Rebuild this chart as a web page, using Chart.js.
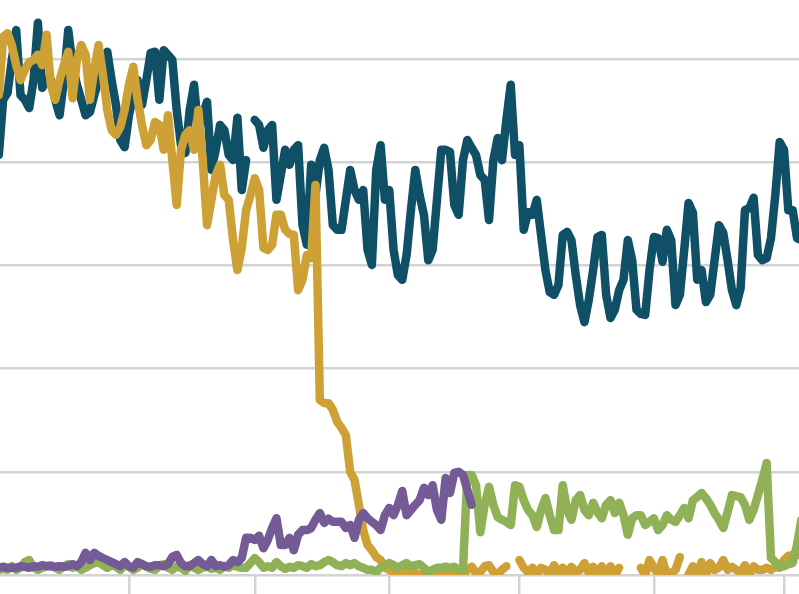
<!DOCTYPE html>
<html><head><meta charset="utf-8">
<script src="https://cdn.jsdelivr.net/npm/chart.js@4.4.1/dist/chart.umd.min.js"></script>
<style>html,body{margin:0;padding:0;background:#fff;overflow:hidden}#wrap{position:relative;width:799px;height:594px}</style>
</head><body><div id="wrap"><canvas id="c"></canvas></div>
<script>
// Daily series, day 0 = 2020-01-01
const monthTickDays = [31, 60, 91, 121, 152, 182];
const monthTickLabels = ['Feb', 'Mar', 'Apr', 'May', 'Jun', 'Jul'];
const yGridValues = [0, 20, 40, 60, 80, 100];

const blueSeries = [
78.5,81.4,92.1,93.4,99.8,105.6,93.0,92.1,90.5,95.9,
107.0,94.4,95.9,95.9,92.1,89.1,95.9,105.6,98.8,95.0,
92.1,89.1,89.7,93.0,95.9,98.8,101.4,95.9,91.1,84.3,
82.9,89.1,93.0,95.9,91.1,95.9,101.2,101.4,92.1,101.7,
100.8,99.8,90.1,83.3,81.8,90.1,95.0,86.2,89.1,91.7,
78.5,82.4,87.2,86.2,81.4,80.4,88.6,74.6,80.4,null,
88.2,87.2,82.8,86.2,87.2,72.7,77.5,82.4,79.5,82.4,
83.3,67.8,64.0,79.5,73.6,80.4,82.8,78.5,67.8,66.9,
66.9,72.7,78.5,74.6,72.7,74.6,63.0,60.1,78.5,83.3,
72.7,74.6,63.0,58.1,57.2,62.0,70.7,78.5,73.6,69.8,
61.0,63.0,72.7,82.4,82.4,82.0,71.7,69.8,80.4,84.3,
82.8,81.4,77.5,76.6,68.8,80.4,84.7,80.4,88.2,95.0,
81.4,83.3,66.9,70.3,69.8,72.7,65.9,59.1,54.8,54.3,
56.2,65.9,66.5,64.9,58.1,52.3,49.0,53.3,59.1,65.5,
65.9,54.3,49.8,51.4,55.2,57.2,64.9,61.0,51.4,50.6,
50.4,59.1,65.5,65.3,60.7,66.9,64.9,52.3,54.3,63.0,
72.1,70.2,57.2,59.1,52.9,54.3,61.0,67.8,66.3,61.0,
55.2,52.3,55.6,70.7,71.1,73.1,62.0,61.0,61.4,65.3,
73.6,83.9,82.4,70.7,70.7,65.3,64.9
];

const yellowSeries = [
90.1,93.0,104.3,105.0,102.7,98.8,95.9,97.9,99.4,99.8,
100.8,98.8,104.7,95.0,92.1,95.9,98.8,101.4,92.4,99.8,
102.7,100.8,92.1,97.9,102.7,96.9,90.1,86.2,85.3,86.8,
90.1,95.0,98.5,92.1,87.2,83.3,84.3,87.8,87.2,82.4,
89.1,80.4,71.7,82.4,85.3,86.2,82.4,90.1,80.4,67.8,
72.7,77.5,79.5,73.6,72.7,64.9,59.1,63.4,70.7,73.6,
76.9,74.6,63.4,63.0,64.0,69.8,69.8,66.9,66.1,65.9,
55.2,57.2,62.0,61.4,75.6,33.9,33.3,33.3,32.0,29.7,
28.5,27.1,20.0,18.4,13.6,8.7,5.8,4.8,3.5,2.9,
1.4,1.0,0.6,0.4,0.4,0.6,0.2,0.4,0.0,0.2,
0.0,0.2,0.0,0.2,0.0,0.4,0.2,0.4,0.2,1.0,
1.6,0.4,0.6,1.7,1.9,0.6,0.2,1.0,1.7,null,
null,2.9,1.4,0.6,1.4,0.0,1.4,1.0,0.2,1.9,
0.6,1.4,0.0,1.6,0.6,1.0,2.3,0.4,1.6,0.0,
1.7,0.2,1.7,0.0,1.4,null,null,null,null,1.4,
0.0,2.9,1.4,0.2,2.9,0.0,0.4,1.0,3.5,null,
0.0,1.7,0.0,2.5,0.0,2.3,1.0,1.4,2.9,1.0,
1.6,1.0,0.4,1.9,0.0,1.7,1.0,1.0,1.4,1.0,
1.6,1.4,2.9,3.7,3.9,3.9,3.9
];

const greenSeries = [
1.4,1.0,1.2,1.0,1.7,1.0,1.4,2.5,2.9,1.4,
1.0,1.4,1.7,1.9,1.4,1.0,1.7,2.1,1.4,1.7,
1.0,1.4,1.9,2.3,2.5,1.9,1.4,1.9,1.6,1.0,
1.9,1.6,1.0,1.4,2.1,1.6,1.2,1.0,1.7,2.1,
1.4,1.0,1.7,1.4,0.8,1.9,1.4,1.0,1.4,1.7,
1.2,1.4,1.0,1.7,1.4,1.9,1.6,1.4,1.4,2.3,
3.3,2.5,1.4,1.7,1.4,2.5,1.7,1.2,1.6,1.4,
1.9,1.7,1.4,2.1,1.7,1.9,2.5,2.9,2.5,1.9,
1.7,2.3,1.9,2.3,1.7,1.4,1.0,1.0,0.6,1.4,
1.9,2.3,1.9,1.4,1.9,2.3,1.7,1.9,2.1,1.4,
0.6,1.0,1.4,1.4,1.6,1.4,1.6,1.0,1.0,19.4,
19.4,17.4,8.3,13.6,17.1,13.6,11.2,10.7,10.3,9.7,
17.4,17.1,14.5,12.6,11.6,9.3,12.6,14.9,11.6,8.7,
8.7,17.4,12.6,10.7,14.5,15.5,12.6,11.6,14.0,12.2,
11.0,13.6,14.5,12.0,14.0,11.6,7.8,11.0,11.6,11.6,
9.7,10.3,11.0,8.7,9.7,11.6,10.7,10.3,11.6,13.0,
11.0,14.5,15.1,15.9,14.9,13.6,12.0,10.7,9.1,12.2,
15.5,15.3,15.1,13.6,10.7,12.6,15.5,18.4,21.7,3.3,
2.5,1.6,1.7,2.1,2.3,5.8,10.7
];

const purpleSeries = [
1.4,1.4,1.6,1.4,1.4,1.4,1.7,1.6,1.4,1.7,
1.6,1.9,1.7,1.7,1.6,1.7,1.6,1.7,2.1,1.7,
2.5,4.3,2.9,4.3,3.7,3.3,2.9,2.5,2.1,1.7,
2.5,1.7,1.4,2.5,2.1,1.7,1.6,1.9,1.9,1.7,
2.1,3.5,3.9,2.3,1.7,1.7,2.3,2.9,2.1,1.7,
2.9,1.7,1.9,1.6,1.9,2.9,2.5,3.3,7.2,7.2,
6.8,7.6,5.2,6.8,9.1,11.0,5.8,5.8,7.2,4.8,
7.8,8.7,8.7,9.1,10.7,12.0,10.1,10.9,10.3,10.3,
10.3,9.1,9.7,7.2,10.7,12.0,11.0,10.3,9.7,8.7,
11.6,13.0,11.6,13.6,16.3,11.6,12.6,13.6,14.5,16.9,
15.5,17.4,12.6,10.7,18.8,15.9,19.8,20.0,19.4,16.5,
13.6
];

function toPoints(arr) { return arr.map((v, i) => ({ x: i, y: v })); }

const lineStyle = { pointRadius: 0, borderWidth: 8.5, tension: 0, borderCapStyle: 'round', borderJoinStyle: 'round', fill: false, spanGaps: false };

new Chart(document.getElementById('c'), {
  type: 'line',
  data: {
    datasets: [
      Object.assign({ label: 'Purple', data: toPoints(purpleSeries), borderColor: '#745b96' }, lineStyle),
      Object.assign({ label: 'Green', data: toPoints(greenSeries), borderColor: '#90b155' }, lineStyle),
      Object.assign({ label: 'Yellow', data: toPoints(yellowSeries), borderColor: '#cea137' }, lineStyle),
      Object.assign({ label: 'Blue', data: toPoints(blueSeries), borderColor: '#0f5066' }, lineStyle)
    ]
  },
  options: {
    responsive: true,
    maintainAspectRatio: false,
    animation: false,
    layout: { padding: 0 },
    plugins: { legend: { display: false }, tooltip: { enabled: false } },
    scales: {
      x: {
        type: 'linear', min: 1.27, max: 185.46,
        border: { display: false },
        grid: { drawOnChartArea: false, drawTicks: true, tickLength: 19, color: '#d3d3d3', lineWidth: 2.5 },
        ticks: { display: false, callback: (v) => monthTickLabels[monthTickDays.indexOf(v)] || '' },
        afterBuildTicks: (s) => { s.ticks = monthTickDays.map(v => ({ value: v })); }
      },
      y: {
        min: 0, max: 111.43,
        border: { display: false },
        grid: { drawTicks: false, color: '#d3d3d3', lineWidth: 2.5 },
        ticks: { display: false },
        afterBuildTicks: (s) => { s.ticks = yGridValues.map(v => ({ value: v })); }
      }
    }
  }
});
</script>
</body></html>
